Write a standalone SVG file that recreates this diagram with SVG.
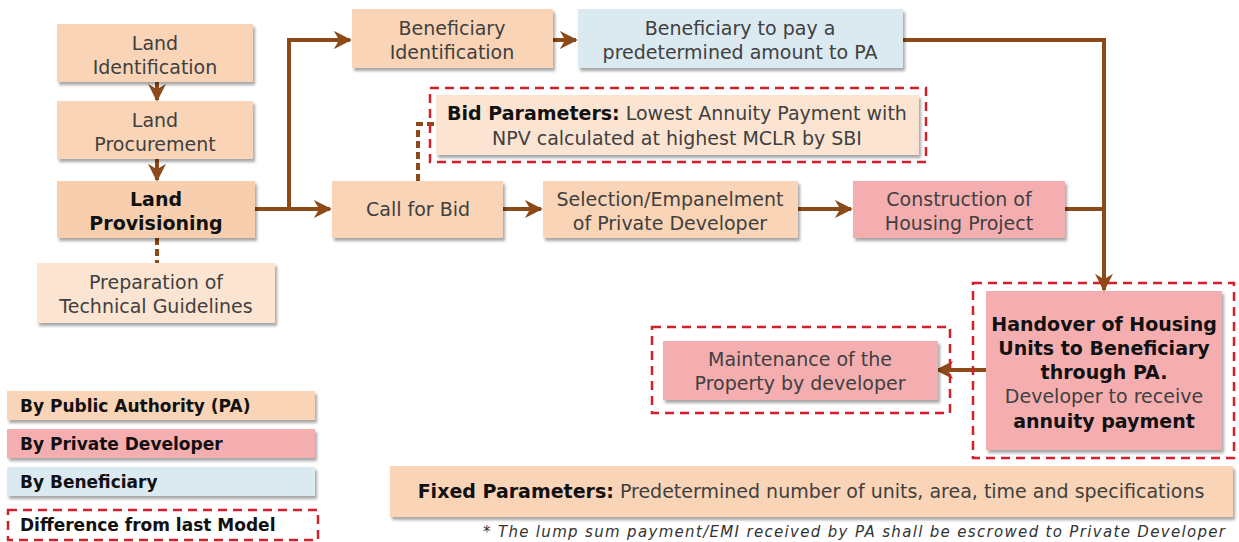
<svg xmlns="http://www.w3.org/2000/svg" width="1239" height="542" viewBox="0 0 1239 542">
<defs>
<filter id="sh" x="-10%" y="-20%" width="125%" height="160%">
<feDropShadow dx="2" dy="3" stdDeviation="1.8" flood-color="#000" flood-opacity="0.35"/>
</filter>
<marker id="ah" viewBox="0 0 10 10" refX="9" refY="5" markerWidth="4.5" markerHeight="4.5" orient="auto" markerUnits="strokeWidth">
<path d="M0,0 L10,5 L0,10 L3,5 z" fill="#8b4a17"/>
</marker>
<style>
.pa{fill:#f9d4b6;filter:url(#sh)}
.pa2{fill:#f8cfae;filter:url(#sh)}
.lt{fill:#fce4d2;filter:url(#sh)}
.pd{fill:#f5aeb0;filter:url(#sh)}
.bf{fill:#dbe9f1;filter:url(#sh)}
.dash{fill:none;stroke:#d0202a;stroke-width:2.5;stroke-dasharray:9 6}
.t{font-family:"DejaVu Sans",sans-serif;font-size:19px;fill:#404040;text-anchor:middle}
.b{font-weight:bold;fill:#111}
.lg{font-family:"DejaVu Sans",sans-serif;font-size:17px;font-weight:bold;fill:#111}
.c{fill:none;stroke:#8b4a17;stroke-width:4}
.cd{fill:none;stroke:#8b4a17;stroke-width:4;stroke-dasharray:7 4}
</style>
</defs>
<rect width="1239" height="542" fill="#fff"/>

<g id="connectors">
<line class="c" x1="157" y1="82" x2="157" y2="100" marker-end="url(#ah)"/>
<line class="c" x1="157" y1="159" x2="157" y2="180" marker-end="url(#ah)"/>
<line class="cd" x1="157" y1="238" x2="157" y2="263"/>
<polyline class="c" points="255,209 330,209" marker-end="url(#ah)"/>
<polyline class="c" points="289,209 289,40 350,40" marker-end="url(#ah)"/>
<line class="c" x1="553" y1="40" x2="576" y2="40" marker-end="url(#ah)"/>
<polyline class="c" points="903,40 1104,40 1104,290" marker-end="url(#ah)"/>
<line class="c" x1="1065" y1="209" x2="1104" y2="209"/>
<line class="c" x1="503" y1="209" x2="541" y2="209" marker-end="url(#ah)"/>
<line class="c" x1="798" y1="209" x2="851" y2="209" marker-end="url(#ah)"/>
<polyline class="cd" points="418,181 418,124 436,124"/>
<line class="c" x1="986" y1="370" x2="937" y2="370" marker-end="url(#ah)"/>
</g>

<g id="land-identification">
<rect class="pa" x="57" y="24" width="196" height="58"/>
<text class="t" x="155" y="50">Land</text>
<text class="t" x="155" y="74">Identification</text>
</g>
<g id="land-procurement">
<rect class="pa" x="57" y="101" width="196" height="58"/>
<text class="t" x="155" y="127">Land</text>
<text class="t" x="155" y="151">Procurement</text>
</g>
<g id="land-provisioning">
<rect class="pa2" x="57" y="181" width="198" height="57"/>
<text class="t b" x="156" y="206">Land</text>
<text class="t b" x="156" y="230">Provisioning</text>
</g>
<g id="preparation">
<rect class="lt" x="37" y="263" width="238" height="60"/>
<text class="t" x="156" y="289">Preparation of</text>
<text class="t" x="156" y="313">Technical Guidelines</text>
</g>
<g id="beneficiary-identification">
<rect class="pa" x="352" y="9" width="201" height="59"/>
<text class="t" x="452" y="35">Beneficiary</text>
<text class="t" x="452" y="59">Identification</text>
</g>
<g id="beneficiary-pay">
<rect class="bf" x="578" y="9" width="325" height="59"/>
<text class="t" x="740" y="35">Beneficiary to pay a</text>
<text class="t" x="740" y="59">predetermined amount to PA</text>
</g>
<g id="bid-parameters">
<rect class="lt" x="436" y="95" width="483" height="60"/>
<rect class="dash" x="430" y="88" width="496" height="74"/>
<text class="t" x="677" y="120"><tspan class="b">Bid Parameters:</tspan> Lowest Annuity Payment with</text>
<text class="t" x="677" y="145">NPV calculated at highest MCLR by SBI</text>
</g>
<g id="call-for-bid">
<rect class="pa" x="332" y="181" width="171" height="57"/>
<text class="t" x="418" y="216">Call for Bid</text>
</g>
<g id="selection">
<rect class="pa" x="543" y="181" width="255" height="57"/>
<text class="t" x="670" y="206">Selection/Empanelment</text>
<text class="t" x="670" y="230">of Private Developer</text>
</g>
<g id="construction">
<rect class="pd" x="853" y="181" width="212" height="57"/>
<text class="t" x="959" y="206">Construction of</text>
<text class="t" x="959" y="230">Housing Project</text>
</g>
<g id="handover">
<rect class="pd" x="986" y="291" width="236" height="159"/>
<rect class="dash" x="973" y="283" width="261" height="175"/>
<text class="t b" x="1104" y="331">Handover of Housing</text>
<text class="t b" x="1104" y="355">Units to Beneficiary</text>
<text class="t b" x="1104" y="379">through PA.</text>
<text class="t" x="1104" y="403">Developer to receive</text>
<text class="t b" x="1104" y="428">annuity payment</text>
</g>
<g id="maintenance">
<rect class="pd" x="663" y="341" width="275" height="59"/>
<rect class="dash" x="652" y="327" width="298" height="86"/>
<text class="t" x="800" y="366">Maintenance of the</text>
<text class="t" x="800" y="390">Property by developer</text>
</g>
<g id="fixed-parameters">
<rect class="pa" x="390" y="466" width="843" height="51"/>
<text class="t" x="811" y="498"><tspan class="b">Fixed Parameters:</tspan> Predetermined number of units, area, time and specifications</text>
</g>
<text x="1225" y="537" font-family="DejaVu Sans, sans-serif" font-size="15" font-style="italic" fill="#333" text-anchor="end" textLength="742" lengthAdjust="spacing">* The lump sum payment/EMI received by PA shall be escrowed to Private Developer</text>

<g id="legend">
<rect class="pa" x="7" y="391" width="308" height="29"/>
<text class="lg" x="20" y="412">By Public Authority (PA)</text>
<rect class="pd" x="7" y="429" width="308" height="29"/>
<text class="lg" x="20" y="450">By Private Developer</text>
<rect class="bf" x="7" y="467" width="308" height="29"/>
<text class="lg" x="20" y="488">By Beneficiary</text>
<rect class="dash" x="8" y="510" width="310" height="30"/>
<text class="lg" x="20" y="531">Difference from last Model</text>
</g>
</svg>
